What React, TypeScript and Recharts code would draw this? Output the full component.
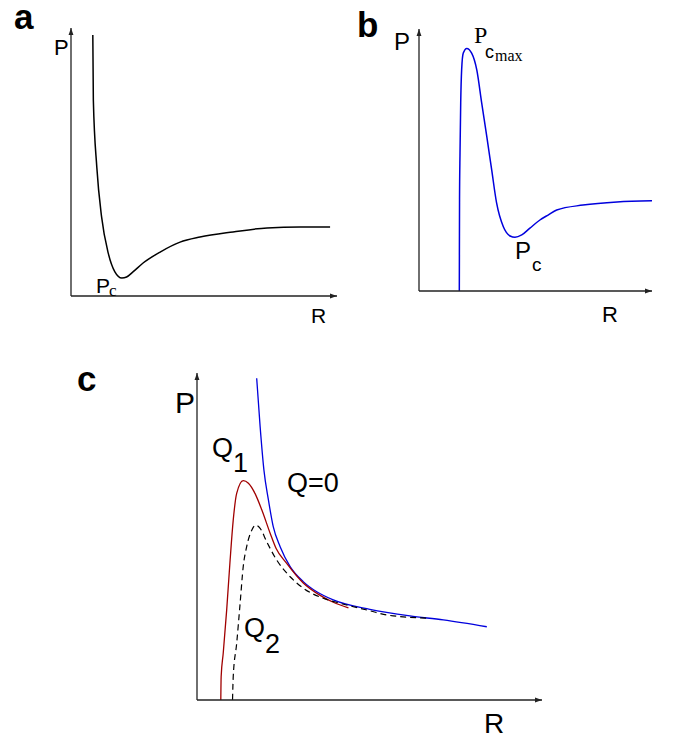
// App.tsx
// three sketch panels (a, b, c) of pressure P vs radius R, drawn with Recharts
// axes have no ticks, only arrows; values are in arbitrary units 0..10

import { LineChart, Line, XAxis, YAxis } from 'recharts'

// panel a : black curve with a single minimum Pc
const rA = [0.82, 0.84, 0.97, 1.15, 1.4, 1.65, 1.91, 2.09, 2.33, 2.71, 3.35, 4.1, 4.85, 6.09, 7.37, 8.61, 9.74]
const pA = [9.74, 7.31, 4.81, 2.95, 1.6, 0.9, 0.67, 0.71, 0.9, 1.23, 1.64, 2.01, 2.2, 2.39, 2.54, 2.57, 2.57]

// panel b : blue curve, Pc_max peak then Pc minimum
const rB = [1.73, 1.74, 1.76, 1.79, 1.83, 1.9, 2.05, 2.26, 2.48, 2.69, 2.91, 3.12, 3.33, 3.62, 3.91, 4.12, 4.41, 4.76, 5.19, 5.54, 5.91, 7.04, 8.5, 10.0]
const pB = [0, 3.5, 5.27, 7.18, 8.44, 9.08, 9.26, 9.08, 8.44, 7.18, 5.89, 4.62, 3.36, 2.45, 2.1, 2.05, 2.14, 2.4, 2.71, 2.9, 3.09, 3.28, 3.4, 3.44]

// panel c : Q=0 (blue), Q1 (red), Q2 (dashed)
const rQ0 = [1.73, 1.83, 1.94, 2.07, 2.21, 2.41, 2.7, 3.08, 3.47, 3.95, 5.01, 6.17, 7.14, 8.4]
const pQ0 = [9.84, 8.36, 7.03, 6.12, 5.3, 4.69, 4.08, 3.62, 3.31, 3.06, 2.77, 2.57, 2.45, 2.24]

const rQ1 = [0.69, 0.7, 0.76, 0.86, 0.96, 1.05, 1.15, 1.34, 1.49, 1.68, 1.88, 2.12, 2.29, 2.6, 3.08, 3.57, 3.95, 4.39]
const pQ1 = [0, 0.71, 1.43, 2.75, 4.28, 5.5, 6.32, 6.71, 6.63, 6.32, 5.81, 5.1, 4.64, 4.18, 3.58, 3.2, 2.99, 2.82]

const rQ2 = [1.03, 1.05, 1.15, 1.25, 1.34, 1.44, 1.59, 1.7, 1.83, 2.02, 2.31, 2.7, 3.08, 3.66, 4.14, 5.01, 5.5, 6.75]
const pQ2 = [0, 0.71, 1.73, 2.96, 4.08, 4.69, 5.2, 5.35, 5.25, 4.84, 4.28, 3.77, 3.42, 3.11, 2.96, 2.73, 2.6, 2.5]

const zip = (r: number[], p: number[]) => r.map((v, i) => ({ r: v, p: p[i] }))

const SANS = '"Liberation Sans", Arial, sans-serif'
const SERIF = '"Liberation Serif", "Times New Roman", serif'
const AXIS = '#222'

interface PanelProps {
  left: number
  top: number
  width: number
  height: number
  margin: { top: number; right: number; bottom: number; left: number }
  children: React.ReactNode
}

// one chart with bare arrow axes
function Panel({ left, top, width, height, margin, children }: PanelProps) {
  return (
    <div style={{ position: 'absolute', left, top }}>
      <LineChart width={width} height={height} margin={margin}>
        <XAxis
          type="number"
          dataKey="r"
          domain={[0, 10]}
          height={1}
          tick={false}
          tickLine={false}
          axisLine={{ stroke: AXIS, strokeWidth: 1.3, markerEnd: 'url(#arrowHead)' }}
        />
        <YAxis
          type="number"
          dataKey="p"
          domain={[0, 10]}
          width={1}
          tick={false}
          tickLine={false}
          axisLine={{ stroke: AXIS, strokeWidth: 1.3, markerStart: 'url(#arrowHead)' }}
        />
        {children}
      </LineChart>
    </div>
  )
}

export default function App() {
  return (
    <div style={{ position: 'fixed', left: 0, top: 0, width: 678, height: 741, background: '#fff', fontFamily: SANS }}>
      {/* arrow marker shared by all axes */}
      <svg width={0} height={0} style={{ position: 'absolute' }}>
        <defs>
          <marker
            id="arrowHead"
            viewBox="0 0 10 10"
            refX={10}
            refY={5}
            markerWidth={9}
            markerHeight={7}
            markerUnits="userSpaceOnUse"
            orient="auto-start-reverse"
          >
            <path d="M0,1.5 L10,5 L0,8.5 z" fill={AXIS} />
          </marker>
        </defs>
      </svg>

      {/* a */}
      <Panel left={0} top={0} width={360} height={320} margin={{ top: 28, right: 23, bottom: 23, left: 70 }}>
        <Line data={zip(rA, pA)} dataKey="p" type="monotone" stroke="#000" strokeWidth={1.5} dot={false} isAnimationActive={false} />
      </Panel>

      {/* b */}
      <Panel left={340} top={0} width={338} height={320} margin={{ top: 29, right: 26, bottom: 28, left: 78 }}>
        <Line data={zip(rB, pB)} dataKey="p" type="monotone" stroke="#0000dd" strokeWidth={1.5} dot={false} isAnimationActive={false} />
      </Panel>

      {/* c */}
      <Panel left={100} top={350} width={480} height={380} margin={{ top: 23, right: 38, bottom: 29, left: 96 }}>
        <Line data={zip(rQ0, pQ0)} dataKey="p" type="monotone" stroke="#0000dd" strokeWidth={1.3} dot={false} isAnimationActive={false} />
        <Line data={zip(rQ1, pQ1)} dataKey="p" type="monotone" stroke="#a00000" strokeWidth={1.3} dot={false} isAnimationActive={false} />
        <Line data={zip(rQ2, pQ2)} dataKey="p" type="monotone" stroke="#000" strokeWidth={1.2} strokeDasharray="6 4" dot={false} isAnimationActive={false} />
      </Panel>

      {/* labels */}
      <svg width={678} height={741} style={{ position: 'absolute', left: 0, top: 0, pointerEvents: 'none' }}>
        <g fontFamily={SANS} fill="#000">
          <text x={14} y={29} fontSize={35} fontWeight="bold">a</text>
          <text x={357} y={37} fontSize={35} fontWeight="bold">b</text>
          <text x={77} y={391} fontSize={35} fontWeight="bold">c</text>

          <text x={54} y={55} fontSize={22}>P</text>
          <text x={311} y={323} fontSize={21}>R</text>
          <text x={96} y={293} fontSize={21}>P</text>
          <text x={109} y={296} fontSize={17} fontFamily={SERIF}>c</text>

          <text x={394} y={50} fontSize={24}>P</text>
          <text x={602} y={322} fontSize={22}>R</text>
          <text x={474} y={43} fontSize={24} fontFamily={SERIF}>P</text>
          <text x={485} y={58} fontSize={18}>c</text>
          <text x={495} y={61} fontSize={16} fontFamily={SERIF}>max</text>
          <text x={515} y={259} fontSize={24}>P</text>
          <text x={532} y={271} fontSize={19}>c</text>

          <text x={175} y={413} fontSize={30}>P</text>
          <text x={212} y={457} fontSize={27}>Q</text>
          <text x={233} y={472} fontSize={27}>1</text>
          <text x={287} y={492} fontSize={27}>Q=0</text>
          <text x={244} y={637} fontSize={27}>Q</text>
          <text x={265} y={653} fontSize={27}>2</text>
          <text x={484} y={733} fontSize={28}>R</text>
        </g>
      </svg>
    </div>
  )
}
